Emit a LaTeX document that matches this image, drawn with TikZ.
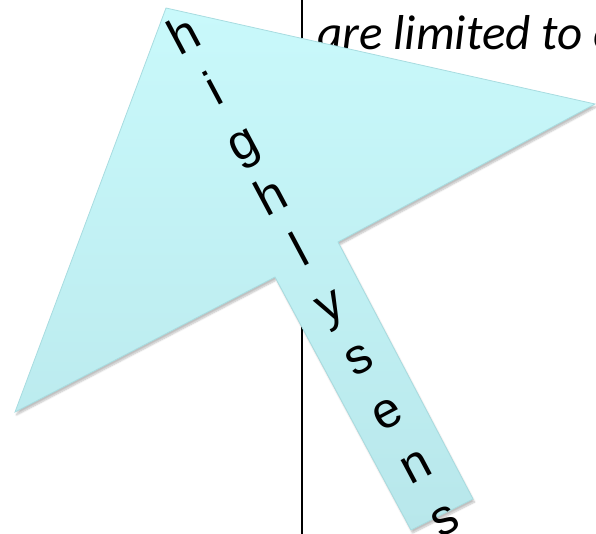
\documentclass[tikz,border=0pt]{standalone}
\usepackage{fontspec}
\newfontfamily\arialf{Liberation Sans}
\newfontfamily\carlitof{Carlito}
\usetikzlibrary{shadows.blur}
\definecolor{arrtop}{RGB}{201,249,251}
\definecolor{arrbot}{RGB}{184,231,235}
\definecolor{arredge}{RGB}{168,220,224}
\tikzset{
  letter/.style={font=\arialf\fontsize{50}{60}\selectfont, rotate=28, anchor=base, inner sep=0pt},
  bodytext/.style={font=\carlitof\itshape\fontsize{49}{58}\selectfont, anchor=base west, inner sep=0pt},
  bigarrow/.style={draw=arredge, line width=0.8pt, top color=arrtop, bottom color=arrbot,
    blur shadow={shadow xshift=1.5pt, shadow yshift=-3pt, shadow blur steps=6, shadow opacity=25}}
}
\begin{document}
\begin{tikzpicture}[x=1pt,y=-1pt]
\path[use as bounding box] (0,0) rectangle (596,534);
% text and divider behind the arrow
\node[bodytext] (txt) at (317,50) {are limited to c};
\coordinate (vtop) at (302,0);
\coordinate (vbot) at (302,534);
\draw[line width=2pt] (vtop) -- (vbot);
% arrow shape
\coordinate (tip) at (166,8);
\coordinate (rw) at (595,104);
\coordinate (ri) at (338,242);
\coordinate (tr) at (473,499);
\coordinate (tl) at (411,530);
\coordinate (li) at (275,277);
\coordinate (lw) at (15,412);
\path[bigarrow] (tip) -- (rw) -- (ri) -- (tr) -- (tl) -- (li) -- (lw) -- cycle;
% letters
\foreach \ch [count=\k from 0] in {h,i,g,h,l,y,s,e,n,s}
  \node[letter] (L\k) at ({192.1+28.86*\k},{49.8+53.7*\k}) {\ch};
\end{tikzpicture}
\end{document}
